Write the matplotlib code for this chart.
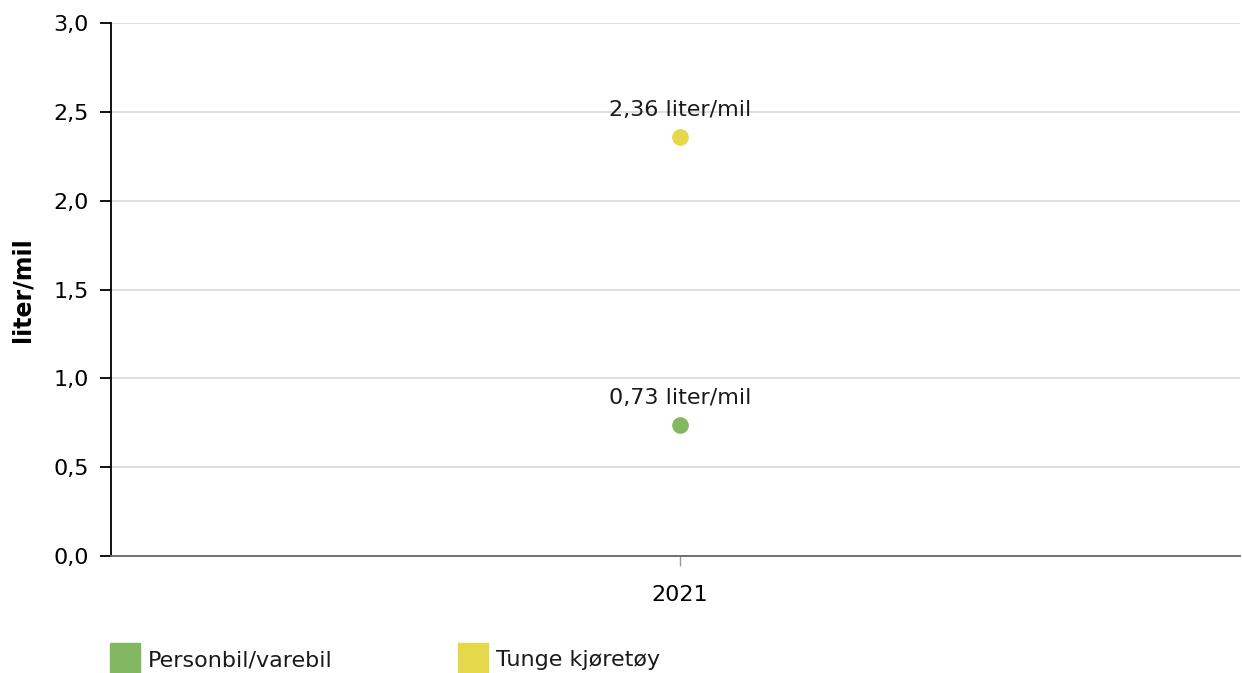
import matplotlib
matplotlib.use("Agg")
import matplotlib.pyplot as plt
from matplotlib.patches import Rectangle

categories = ["2021"]
series_names = ["Personbil/varebil", "Tunge kjøretøy"]
series_values = [[0.74], [2.36]]
label_texts = ["0,73 liter/mil", "2,36 liter/mil"]
colors = ["#84b761", "#e5d84a"]
yticks = [0.0, 0.5, 1.0, 1.5, 2.0, 2.5, 3.0]
ylabel = "liter/mil"

FS = 16
plt.rcParams['font.family'] = ['DejaVu Sans']
fig = plt.figure(figsize=(12.42, 6.73), dpi=100)
ax = fig.add_axes([111/1242, 1-556/673, 1129/1242, (556-23)/673])

for vals, c, lbl in zip(series_values, colors, label_texts):
    for i, v in enumerate(vals):
        ax.plot(i, v, 'o', color=c, markersize=12, markeredgewidth=0, zorder=3)
        ax.annotate(lbl, (i, v), xytext=(0, 12), textcoords='offset points',
                    ha='center', va='bottom', fontsize=FS, color='#1a1a1a')

ax.set_xlim(-0.504, 0.496)
ax.set_ylim(0, 3.0)
ax.set_yticks(yticks)
ax.set_yticklabels([f"{t:.1f}".replace('.', ',') for t in yticks], fontsize=FS)
ax.set_xticks(range(len(categories)))
ax.set_xticklabels(categories, fontsize=FS)
ax.grid(axis='y', color='#d9d9d9', linewidth=1.2)
ax.set_axisbelow(True)
for s in ['top', 'right']:
    ax.spines[s].set_visible(False)
ax.spines['left'].set_color('black')
ax.spines['left'].set_linewidth(1.3)
ax.spines['bottom'].set_color('#666666')
ax.spines['bottom'].set_linewidth(1.3)
ax.tick_params(axis='y', length=8, width=1.3, color='black', pad=8)
ax.tick_params(axis='x', length=7, width=1, color='#999999', pad=14)
ax.set_ylabel(ylabel, fontsize=17, fontweight='bold', va='center')
ax.yaxis.set_label_coords(-89/1129, 0.5)

leg_x = [110, 458]
for x, c, name in zip(leg_x, colors, series_names):
    fig.patches.append(Rectangle((x/1242, 0), 30/1242, 30/673, transform=fig.transFigure,
                                 color=c, figure=fig))
    fig.text((x+38)/1242, 13/673, name, fontsize=FS, va='center', ha='left', color='#1a1a1a')

fig.savefig("out.png", dpi=100)
